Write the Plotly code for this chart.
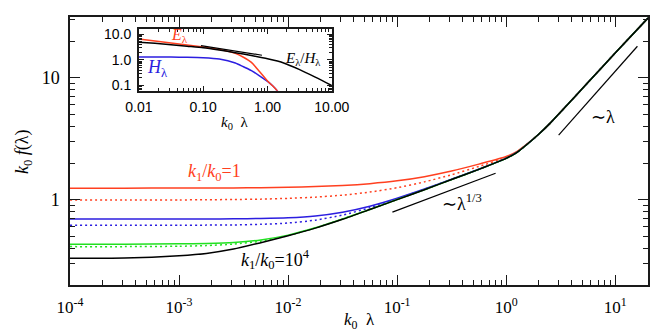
import math
import plotly.graph_objects as go

# ---------------- main panel data ----------------
lam = [1e-4, 3.16e-4, 1e-3, 1.78e-3, 3.16e-3, 5.62e-3, 1e-2, 1.78e-2, 3.16e-2,
       5.62e-2, 0.1, 0.178, 0.316, 0.562, 1.0, 1.26, 1.58, 2.0, 2.51, 3.16,
       5.62, 10.0, 20.0]
f_black = [0.331, 0.333, 0.348, 0.363, 0.394, 0.445, 0.507, 0.586, 0.692,
           0.832, 1.003, 1.211, 1.468, 1.778, 2.188, 2.455, 2.884, 3.467,
           4.217, 5.248, 9.162, 16.03, 31.0]
f_red = [1.246, 1.247, 1.249, 1.250, 1.253, 1.258, 1.267, 1.283, 1.310,
         1.357, 1.431, 1.549, 1.721, 1.963, 2.265, 2.500, 2.904, 3.467,
         4.217, 5.248, 9.162, 16.03, 31.0]
f_red_dot = [0.995, 0.997, 0.998, 1.001, 1.006, 1.013, 1.028, 1.052, 1.092,
             1.157, 1.257, 1.403, 1.606, 1.877, 2.223, 2.472, 2.891, 3.467,
             4.217, 5.248, 9.162, 16.03, 31.0]
f_blue = [0.695, 0.695, 0.696, 0.696, 0.698, 0.702, 0.712, 0.737, 0.791,
          0.886, 1.031, 1.226, 1.475, 1.782, 2.198, 2.460, 2.891, 3.467,
          4.217, 5.248, 9.162, 16.03, 31.0]
f_blue_dot = [0.618, 0.618, 0.619, 0.620, 0.622, 0.629, 0.645, 0.681, 0.750,
              0.861, 1.017, 1.220, 1.472, 1.780, 2.193, 2.455, 2.884, 3.467,
              4.217, 5.248, 9.162, 16.03, 31.0]
f_green = [0.432, 0.432, 0.435, 0.439, 0.447, 0.468, 0.513, 0.589, 0.695,
           0.834, 1.005, 1.211, 1.468, 1.778, 2.188, 2.455, 2.884, 3.467,
           4.217, 5.248, 9.162, 16.03, 31.0]
f_green_dot = [0.413, 0.413, 0.416, 0.421, 0.433, 0.458, 0.509, 0.588, 0.695,
               0.834, 1.005, 1.211, 1.468, 1.778, 2.188, 2.455, 2.884, 3.467,
               4.217, 5.248, 9.162, 16.03, 31.0]

# guide lines
guide13_x = [0.0906, 0.80]
guide13_y = [0.793, 1.652]
guide1_x = [3.03, 16.0]
guide1_y = [3.40, 18.2]

# ---------------- inset data ----------------
ins_lam = [0.01, 0.0178, 0.0316, 0.0562, 0.1, 0.178, 0.316, 0.422, 0.562,
           0.750, 1.0, 1.19, 1.41, 1.58]
ins_E = [6.46, 5.37, 4.52, 3.80, 3.16, 2.51, 1.778, 1.259, 0.794, 0.355,
         0.151, 0.100, 0.063, 0.040]
ins_H = [1.288, 1.285, 1.276, 1.259, 1.216, 1.084, 0.759, 0.537, 0.380,
         0.240, 0.145, 0.100, 0.063, 0.040]
ins_ratio_lam = [0.01, 0.0178, 0.0316, 0.0562, 0.1, 0.178, 0.316, 0.562,
                 1.0, 1.78, 3.16, 5.62, 10.0]
ins_ratio = [4.85, 4.37, 3.89, 3.39, 2.95, 2.40, 1.905, 1.462, 1.096,
             0.759, 0.417, 0.209, 0.100]
ins_guide_x = [0.0923, 0.82]
ins_guide_y = [3.58, 1.51]

x_tick_vals = [1e-4, 1e-3, 1e-2, 1e-1, 1, 10]
x_tick_text = ["10<sup>-4</sup>", "10<sup>-3</sup>", "10<sup>-2</sup>",
               "10<sup>-1</sup>", "10<sup>0</sup>", "10<sup>1</sup>"]
y_tick_vals = [1, 10]
y_tick_text = ["1", "10"]
ins_x_vals = [0.01, 0.1, 1, 10]
ins_x_text = ["0.01", "0.10", "1.00", "10.00"]
ins_y_vals = [0.1, 1, 10]
ins_y_text = ["0.1", "1.0", "10.0"]

RED = "#ff4020"
BLUE = "#2c1ee0"
GREEN = "#22e022"
BLACK = "#000000"
SERIF = "Liberation Serif"
SANS = "Liberation Sans"
DOT = "2px,3px"


def minor_vals(e0, e1):
    return [m * 10.0 ** e for e in range(e0, e1) for m in range(2, 10)]


fig = go.Figure()


def add(x, y, color, dash="solid", xa="x", ya="y", w=1.5):
    fig.add_trace(go.Scatter(x=x, y=y, mode="lines", xaxis=xa, yaxis=ya,
                             line=dict(color=color, width=w, dash=dash,
                                       shape="spline", smoothing=0.6),
                             hoverinfo="skip"))


add(lam, f_red_dot, RED, DOT)
add(lam, f_blue_dot, BLUE, DOT)
add(lam, f_green_dot, GREEN, DOT)
add(lam, f_red, RED)
add(lam, f_blue, BLUE)
add(lam, f_green, GREEN)
add(lam, f_black, BLACK)
add(guide13_x, guide13_y, BLACK, w=1.2)
add(guide1_x, guide1_y, BLACK, w=1.2)

add(ins_lam, ins_H, BLUE, xa="x2", ya="y2")
add(ins_lam, ins_E, RED, xa="x2", ya="y2")
add(ins_ratio_lam, ins_ratio, BLACK, xa="x2", ya="y2")
add(ins_guide_x, ins_guide_y, BLACK, xa="x2", ya="y2", w=1.2)

W, H = 664, 332
L, R, T, B = 62, 6, 8, 55
PW, PH = W - L - R, H - T - B


def px(x):
    return (x - L) / PW


def py(y):
    return (H - B - y) / PH


axis_common = dict(showgrid=False, zeroline=False, showline=True,
                   linecolor="#1a1a1a", linewidth=1.5, mirror="allticks",
                   ticks="inside", tickcolor="#1a1a1a", tickwidth=1.2)

fig.update_layout(
    width=W, height=H, margin=dict(l=L, r=R, t=T, b=B),
    plot_bgcolor="white", paper_bgcolor="white", showlegend=False,
    xaxis=dict(type="log", range=[-4, math.log10(20)], tickmode="array",
               tickvals=x_tick_vals, ticktext=x_tick_text, ticklen=10,
               tickfont=dict(family=SERIF, size=17, color="black"),
               ticklabelstandoff=6,
               minor=dict(tickmode="array", tickvals=minor_vals(-4, 2),
                          ticks="inside", ticklen=5, tickcolor="#1a1a1a",
                          showgrid=False),
               **axis_common),
    yaxis=dict(type="log", range=[math.log10(0.2), 1.5], tickmode="array",
               tickvals=y_tick_vals, ticktext=y_tick_text, ticklen=10,
               tickfont=dict(family=SERIF, size=18, color="black"),
               ticklabelstandoff=5,
               minor=dict(tickmode="array", tickvals=minor_vals(-1, 2),
                          ticks="inside", ticklen=5, tickcolor="#1a1a1a",
                          showgrid=False),
               **axis_common),
    xaxis2=dict(type="log", range=[-2, 1], domain=[px(133), px(332)],
                anchor="y2", tickmode="array", tickvals=ins_x_vals,
                ticktext=ins_x_text, ticklen=5,
                tickfont=dict(family=SANS, size=14, color="black"),
                ticklabelstandoff=3,
                minor=dict(tickmode="array", tickvals=minor_vals(-2, 1),
                           ticks="inside", ticklen=3, tickcolor="#1a1a1a",
                           showgrid=False),
                **axis_common),
    yaxis2=dict(type="log", range=[-1.2, 1.2], domain=[py(82), py(20)],
                anchor="x2", tickmode="array", tickvals=ins_y_vals,
                ticktext=ins_y_text, ticklen=5,
                tickfont=dict(family=SANS, size=14, color="black"),
                ticklabelstandoff=3,
                minor=dict(tickmode="array", tickvals=minor_vals(-2, 2),
                           ticks="inside", ticklen=3, tickcolor="#1a1a1a",
                           showgrid=False),
                **axis_common),
)


def note(text, x, y, color="black", size=18, angle=0, family=SERIF):
    fig.add_annotation(text=text, x=px(x), y=py(y), xref="paper", yref="paper",
                       showarrow=False, xanchor="center", yanchor="middle",
                       textangle=angle,
                       font=dict(family=family, size=size, color=color))


note("<i>k</i><sub>1</sub>/<i>k</i><sub>0</sub>=1", 211, 164, RED, 18)
note("<i>k</i><sub>1</sub>/<i>k</i><sub>0</sub>=10<sup>4</sup>", 274, 251, BLACK, 18)
note("∼λ<sup>1/3</sup>", 466, 194, BLACK, 18)
note("∼λ", 612, 108, BLACK, 18)
note("<i>k</i><sub>0</sub>  λ", 361, 313, BLACK, 17)
note("<i>k</i><sub>0</sub> <i>f</i>(λ)", 14, 143, BLACK, 18, angle=-90)

note("<i>E</i><sub>λ</sub>", 175, 27, RED, 16)
note("<i>H</i><sub>λ</sub>", 152, 60, BLUE, 18)
note("<i>E</i><sub>λ</sub>/<i>H</i><sub>λ</sub>", 302, 50, BLACK, 15)
note("<i>k</i><sub>0</sub>  λ", 232, 114, BLACK, 15)

fig.write_html("out.html")
